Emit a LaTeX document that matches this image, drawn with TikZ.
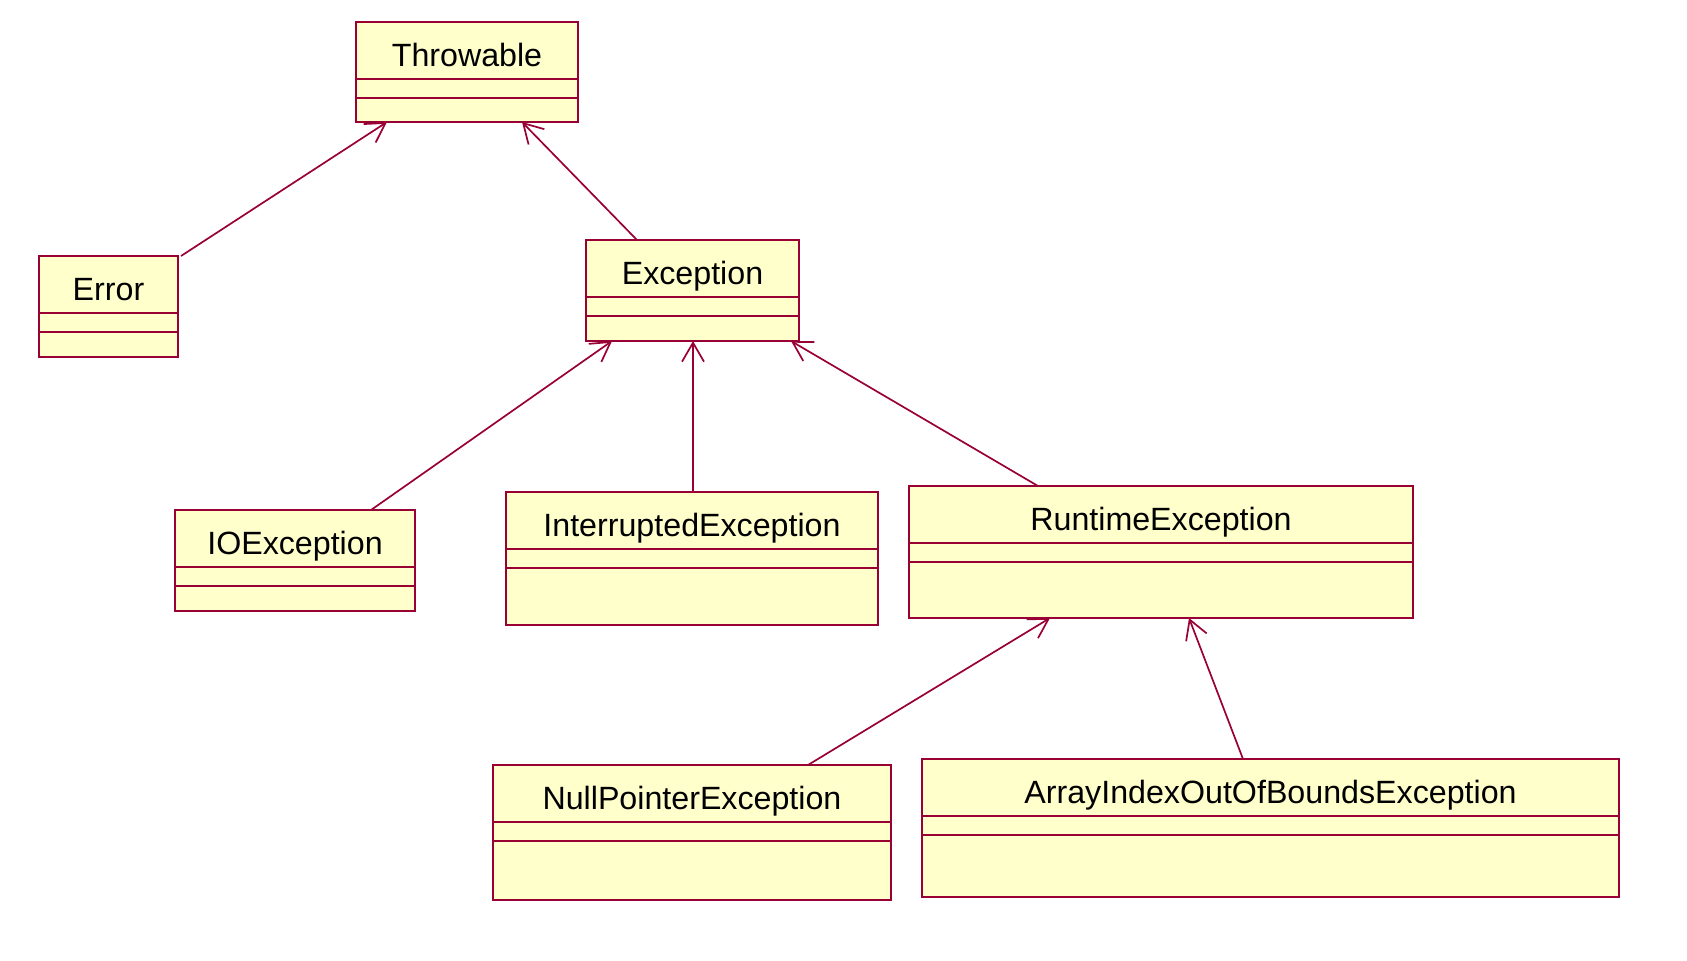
\documentclass[tikz,border=0pt]{standalone}
\usepackage{fontspec}
\setmainfont{Liberation Sans}
\usetikzlibrary{arrows.meta,calc,fit}
\definecolor{roseline}{RGB}{153,0,51}
\definecolor{rosefill}{RGB}{255,255,204}

% class box: name, corner 1, corner 2, label
\newcommand{\umlclass}[6]{%
  \node[classbox, fit={(#2,#3) (#4,#5)}] (#1) {};
  \node[classname] (#1-name) at ($(#1.north)+(0,44)$) {#6};
  \draw[divider] ($(#1.north west)+(0,57)$) -- ($(#1.north east)+(0,57)$);
  \draw[divider] ($(#1.north west)+(0,76)$) -- ($(#1.north east)+(0,76)$);
}

\begin{document}
\begin{tikzpicture}[x=0.5pt, y=-0.5pt,
    classbox/.style={draw=roseline, fill=rosefill, line width=0.85pt, inner sep=0pt, outer sep=0pt},
    classname/.style={anchor=base, inner sep=0pt, font=\fontsize{16.1}{19}\selectfont},
    divider/.style={draw=roseline, line width=0.85pt},
    inherit/.style={draw=roseline, line width=0.85pt, -{Straight Barb[length=9.5pt,width=11pt]}}]
    \useasboundingbox (0,0) rectangle (1687,960);
    \umlclass{throwable}{356}{22}{578}{122}{Throwable}
    \umlclass{error}{39}{256}{178}{357}{Error}
    \umlclass{exception}{586}{240}{799}{341}{Exception}
    \umlclass{ioexc}{175}{510}{415}{611}{IOException}
    \umlclass{interrupted}{506}{492}{878}{625}{InterruptedException}
    \umlclass{runtime}{909}{486}{1413}{618}{RuntimeException}
    \umlclass{nullptr}{493}{765}{891}{900}{NullPointerException}
    \umlclass{arrayidx}{922}{759}{1619}{897}{ArrayIndexOutOfBoundsException}
    \draw[inherit] (181,0 |- error.north) -- (387,0 |- throwable.south);
    \draw[inherit] (637,0 |- exception.north) -- (522,0 |- throwable.south);
    \draw[inherit] (371,0 |- ioexc.north) -- (612,0 |- exception.south);
    \draw[inherit] (693,0 |- interrupted.north) -- (693,0 |- exception.south);
    \draw[inherit] (1038,0 |- runtime.north) -- (791,0 |- exception.south);
    \draw[inherit] (808,0 |- nullptr.north) -- (1050,0 |- runtime.south);
    \draw[inherit] (1243,0 |- arrayidx.north) -- (1189,0 |- runtime.south);
\end{tikzpicture}
\end{document}
